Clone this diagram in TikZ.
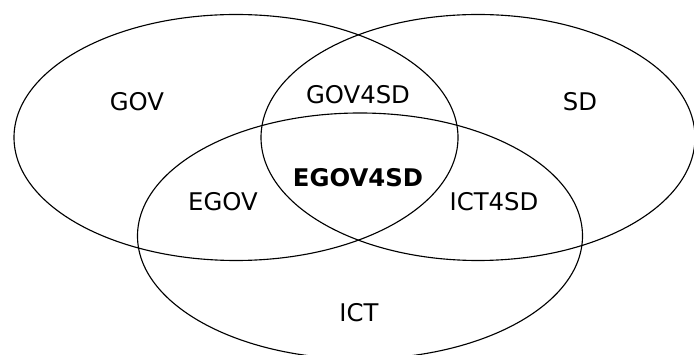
\documentclass[tikz,border=0pt]{standalone}
\usepackage{fontspec}
\setmainfont{DejaVu Sans}
\tikzset{
	setlabel/.style={font=\fontsize{17.3}{20}\selectfont, inner sep=0pt},
}
\begin{document}
\begin{tikzpicture}[x=0.025cm, y=0.025cm, line width=0.8pt]
		\useasboundingbox (0,0) rectangle (694,354);
		\draw (236,216.5) ellipse (222 and 123);
		\draw (478,216.5) ellipse (217 and 123);
		\draw (360,118) ellipse (222.5 and 123);
		\node[setlabel] (gov) at (137,252) {GOV};
		\node[setlabel] (sd) at (580,252) {SD};
		\node[setlabel] (gov4sd) at (358,259) {GOV4SD};
		\node[setlabel, font=\fontsize{17.3}{20}\selectfont\bfseries] (egov4sd) at (358,176) {EGOV4SD};
		\node[setlabel] (egov) at (223,152) {EGOV};
		\node[setlabel] (ict4sd) at (494,152) {ICT4SD};
		\node[setlabel] (ict) at (359,41) {ICT};
	\end{tikzpicture}
\end{document}
